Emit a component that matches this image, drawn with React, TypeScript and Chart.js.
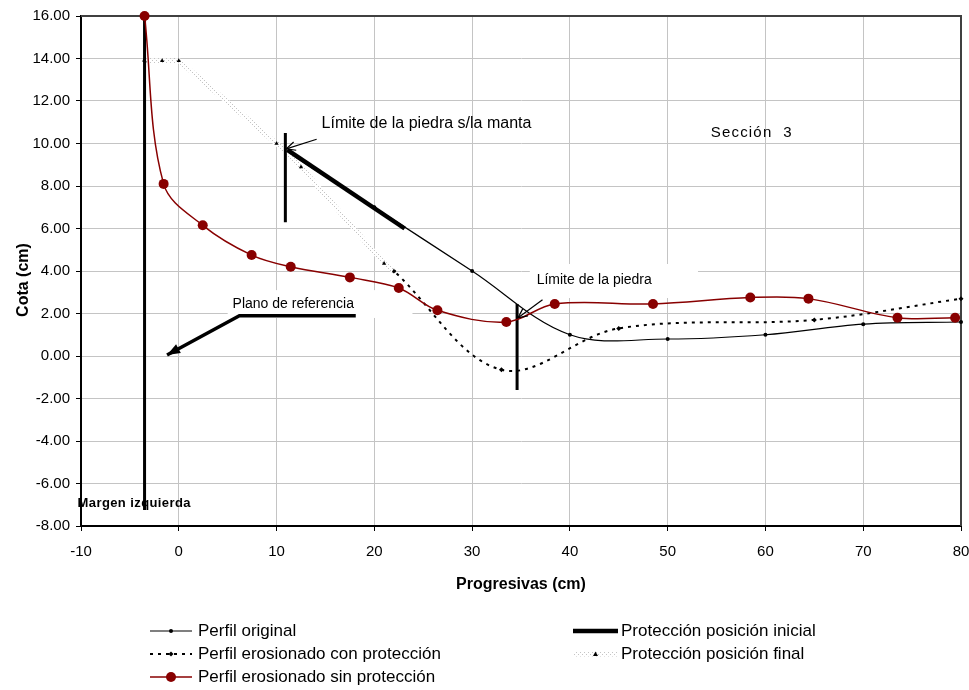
import React, { useEffect, useRef } from 'react';
import { Chart, registerables } from 'chart.js';

Chart.register(...registerables);

const FONT = "'Liberation Sans Narrow', 'Arial Narrow', 'Liberation Sans', Arial, sans-serif";
const RED = '#880000';

// ---- Data (x = progresiva cm, y = cota cm) ----
const origX = [-3.5, -1.7, 0, 10, 20, 30, 40, 50, 60, 70, 80];
const origY = [13.9, 13.9, 13.9, 10, 7, 4, 1.0, 0.8, 1.0, 1.5, 1.6];

const conProtX = [21, 22, 33, 45, 65, 80];
const conProtY = [4.35, 4.0, -0.65, 1.3, 1.7, 2.7];

const sinProtX = [-3.5, -1.55, 2.45, 7.45, 11.45, 17.5, 22.5, 26.45, 33.5, 38.45, 48.5, 58.45, 64.4, 73.5, 79.4];
const sinProtY = [16.0, 8.1, 6.15, 4.75, 4.2, 3.7, 3.2, 2.15, 1.6, 2.45, 2.45, 2.75, 2.7, 1.8, 1.8];

const protIniX = [11.1, 23.1];
const protIniY = [9.7, 6.0];

const protFinX = [-3.5, -1.7, 0, 10, 12.5, 21, 22];
const protFinY = [13.9, 13.9, 13.9, 10, 8.9, 4.35, 4.0];

// annotation marks
const margenX = [-3.5, -3.5];
const margenY = [16, -7.25];
const mantaBarX = [10.9, 10.9];
const mantaBarY = [10.5, 6.3];
const piedraBarX = [34.6, 34.6];
const piedraBarY = [2.45, -1.6];
const planoX = [18.1, 6.2, -1.2];
const planoY = [1.9, 1.9, 0.05];
const mantaArrowX = [14.1, 11.0];
const mantaArrowY = [10.2, 9.75];
const piedraArrowX = [37.2, 34.7];
const piedraArrowY = [2.65, 1.8];

// text labels (anchored in data coordinates)
const labelTexts = ['Límite de la piedra s/la manta', 'Sección  3', 'Límite de la piedra', 'Plano de referencia', 'Margen izquierda'];
const labelX = [14.6, 54.4, 36.6, 5.5, -10.35];
const labelY = [10.96, 10.5, 3.58, 2.45, -6.92];

// white label boxes hiding grid lines
const boxX0 = [35.9, 5.0];
const boxX1 = [53.1, 23.9];
const boxY0 = [4.33, 3.1];
const boxY1 = [2.73, 1.79];

const xTickMin = -10;
const xTickMax = 80;
const yTickMin = -8;
const yTickMax = 16;

const pts = (xs: number[], ys: number[]) => xs.map((x, i) => ({ x, y: ys[i] }));

export default function App() {
  const ref = useRef<HTMLCanvasElement>(null);

  useEffect(() => {
    const canvas = ref.current!;
    const ctx = canvas.getContext('2d')!;

    const pc = document.createElement('canvas');
    pc.width = 4;
    pc.height = 4;
    const pctx = pc.getContext('2d')!;
    pctx.fillStyle = '#ffffff';
    pctx.fillRect(0, 0, 4, 4);
    pctx.fillStyle = '#c4c4c4';
    pctx.fillRect(0, 0, 1, 1);
    pctx.fillRect(2, 2, 1, 1);
    const pattern = ctx.createPattern(pc, 'repeat')!;

    const annot = (data: any, width: number) => ({
      label: '',
      data,
      borderColor: '#000',
      backgroundColor: '#000',
      borderWidth: width,
      pointRadius: 0,
      tension: 0,
      order: 2,
      clip: false as any,
    });

    const legendDefs = [
      { ds: 'orig', text: 'Perfil original', col: 0, row: 0 },
      { ds: 'con', text: 'Perfil erosionado con protección', col: 0, row: 1 },
      { ds: 'sin', text: 'Perfil erosionado sin protección', col: 0, row: 2 },
      { ds: 'ini', text: 'Protección posición inicial', col: 1, row: 0 },
      { ds: 'fin', text: 'Protección posición final', col: 1, row: 1 },
    ];

    const drawMarker = (c: CanvasRenderingContext2D, style: string, x: number, y: number, r: number, color: string) => {
      c.save();
      c.fillStyle = color;
      c.beginPath();
      if (style === 'circle') {
        c.arc(x, y, r, 0, Math.PI * 2);
      } else if (style === 'triangle') {
        c.moveTo(x, y - r);
        c.lineTo(x + r, y + r * 0.8);
        c.lineTo(x - r, y + r * 0.8);
        c.closePath();
      } else if (style === 'rectRot') {
        c.moveTo(x, y - r);
        c.lineTo(x + r, y);
        c.lineTo(x, y + r);
        c.lineTo(x - r, y);
        c.closePath();
      }
      c.fill();
      c.restore();
    };

    const labelFont = [
      { size: 16, bold: false, spacing: 0 },
      { size: 15, bold: false, spacing: 1.2 },
      { size: 14, bold: false, spacing: 0 },
      { size: 14, bold: false, spacing: 0 },
      { size: 13, bold: true, spacing: 0.4 },
    ];

    const customPlugin = {
      id: 'custom',
      beforeDatasetsDraw(chart: any) {
        const c = chart.ctx as CanvasRenderingContext2D;
        const xs = chart.scales.x;
        const ys = chart.scales.y;
        const a = chart.chartArea;
        c.save();
        c.fillStyle = '#fff';
        for (let i = 0; i < boxX0.length; i++) {
          const x0 = xs.getPixelForValue(boxX0[i]);
          const x1 = xs.getPixelForValue(boxX1[i]);
          const y0 = ys.getPixelForValue(boxY0[i]);
          const y1 = ys.getPixelForValue(boxY1[i]);
          c.fillRect(x0, y0, x1 - x0, y1 - y0);
        }
        // plot frame top/right
        c.strokeStyle = '#404040';
        c.lineWidth = 2;
        c.beginPath();
        c.moveTo(a.left, a.top);
        c.lineTo(a.right, a.top);
        c.lineTo(a.right, a.bottom);
        c.stroke();
        c.restore();
      },
      afterDatasetsDraw(chart: any) {
        const c = chart.ctx as CanvasRenderingContext2D;
        const xs = chart.scales.x;
        const ys = chart.scales.y;
        const px = (v: number) => xs.getPixelForValue(v);
        const py = (v: number) => ys.getPixelForValue(v);
        c.save();
        // filled arrow head (plano de referencia)
        {
          const n = planoX.length;
          const tx = px(planoX[n - 1]);
          const ty = py(planoY[n - 1]);
          const fx = px(planoX[n - 2]);
          const fy = py(planoY[n - 2]);
          const ang = Math.atan2(ty - fy, tx - fx);
          const L = 13;
          const W = 5;
          c.fillStyle = '#000';
          c.beginPath();
          c.moveTo(tx, ty);
          c.lineTo(tx - L * Math.cos(ang) + W * Math.sin(ang), ty - L * Math.sin(ang) - W * Math.cos(ang));
          c.lineTo(tx - L * Math.cos(ang) - W * Math.sin(ang), ty - L * Math.sin(ang) + W * Math.cos(ang));
          c.closePath();
          c.fill();
        }
        // open arrow heads
        const openHead = (ax: number[], ay: number[]) => {
          const tx = px(ax[1]);
          const ty = py(ay[1]);
          const fx = px(ax[0]);
          const fy = py(ay[0]);
          const ang = Math.atan2(ty - fy, tx - fx);
          const L = 10;
          const sp = 0.45;
          c.strokeStyle = '#000';
          c.lineWidth = 1.2;
          c.beginPath();
          c.moveTo(tx - L * Math.cos(ang - sp), ty - L * Math.sin(ang - sp));
          c.lineTo(tx, ty);
          c.lineTo(tx - L * Math.cos(ang + sp), ty - L * Math.sin(ang + sp));
          c.stroke();
        };
        openHead(mantaArrowX, mantaArrowY);
        openHead(piedraArrowX, piedraArrowY);

        // text labels
        c.fillStyle = '#000';
        c.textBaseline = 'middle';
        c.textAlign = 'left';
        for (let i = 0; i < labelTexts.length; i++) {
          const f = labelFont[i];
          c.font = `${f.bold ? 'bold ' : ''}${f.size}px ${FONT}`;
          (c as any).letterSpacing = `${f.spacing}px`;
          c.fillText(labelTexts[i], px(labelX[i]), py(labelY[i]));
        }
        (c as any).letterSpacing = '0px';
        c.restore();
      },
      afterDraw(chart: any) {
        const c = chart.ctx as CanvasRenderingContext2D;
        const a = chart.chartArea;
        // y axis title
        c.save();
        c.translate(24, (a.top + a.bottom) / 2 + 9);
        c.rotate(-Math.PI / 2);
        c.font = `bold 16px ${FONT}`;
        c.fillStyle = '#000';
        c.textAlign = 'center';
        c.textBaseline = 'middle';
        c.fillText('Cota (cm)', 0, 0);
        c.restore();

        const colX = [150, 573];
        const colW = [42, 45];
        const textX = [198, 621];
        const rowY = [631, 654, 677];
        c.save();
        c.font = `17px ${FONT}`;
        c.textBaseline = 'middle';
        c.textAlign = 'left';
        for (const item of legendDefs) {
          const ds = chart.data.datasets.find((d: any) => d.key === item.ds);
          const x0 = colX[item.col];
          const x1 = x0 + colW[item.col];
          const y = rowY[item.row];
          c.save();
          c.strokeStyle = ds.borderColor;
          c.lineWidth = ds.borderWidth;
          c.setLineDash(ds.borderDash || []);
          c.beginPath();
          c.moveTo(x0, y);
          c.lineTo(x1, y);
          c.stroke();
          c.restore();
          if (ds.pointRadius > 0) {
            drawMarker(c, ds.pointStyle || 'circle', (x0 + x1) / 2, y, ds.pointRadius, ds.pointBackgroundColor || ds.backgroundColor);
          }
          c.fillStyle = '#000';
          c.fillText(item.text, textX[item.col], y);
        }
        c.restore();
      },
    };

    const chart = new Chart(ctx, {
      type: 'line',
      data: {
        datasets: [
          {
            key: 'sin',
            label: 'Perfil erosionado sin protección',
            data: pts(sinProtX, sinProtY),
            borderColor: RED,
            backgroundColor: RED,
            pointBackgroundColor: RED,
            borderWidth: 1.5,
            pointRadius: 5,
            pointBorderWidth: 0,
            pointStyle: 'circle',
            tension: 0.35,
            order: 0,
            clip: false as any,
          } as any,
          {
            key: 'ini',
            label: 'Protección posición inicial',
            data: pts(protIniX, protIniY),
            borderColor: '#000',
            backgroundColor: '#000',
            borderWidth: 4.5,
            pointRadius: 0,
            tension: 0,
            order: 1,
          } as any,
          annot(pts(margenX, margenY), 3),
          annot(pts(mantaBarX, mantaBarY), 3),
          annot(pts(piedraBarX, piedraBarY), 3),
          annot(pts(planoX, planoY), 3.5),
          annot(pts(mantaArrowX, mantaArrowY), 1.2),
          annot(pts(piedraArrowX, piedraArrowY), 1.2),
          {
            key: 'fin',
            label: 'Protección posición final',
            data: pts(protFinX, protFinY),
            borderColor: pattern,
            backgroundColor: '#000',
            pointBackgroundColor: '#000',
            borderWidth: 5,
            pointStyle: 'triangle',
            pointRadius: 2.5,
            pointBorderWidth: 0,
            tension: 0,
            order: 3,
          } as any,
          {
            key: 'con',
            label: 'Perfil erosionado con protección',
            data: pts(conProtX, conProtY),
            borderColor: '#000',
            backgroundColor: '#000',
            pointBackgroundColor: '#000',
            borderWidth: 2,
            borderDash: [3, 5],
            pointStyle: 'rectRot',
            pointRadius: 2.5,
            pointBorderWidth: 0,
            tension: 0.35,
            order: 4,
            clip: false as any,
          } as any,
          {
            key: 'orig',
            label: 'Perfil original',
            data: pts(origX, origY),
            borderColor: '#000',
            backgroundColor: '#000',
            pointBackgroundColor: '#000',
            borderWidth: 1.2,
            pointStyle: 'circle',
            pointRadius: 2,
            pointBorderWidth: 0,
            tension: 0.35,
            order: 5,
            clip: false as any,
          } as any,
        ],
      },
      options: {
        responsive: false,
        animation: false,
        events: [],
        layout: { padding: { left: 0, top: 16, right: 8, bottom: 96 } },
        plugins: {
          legend: { display: false },
          tooltip: { enabled: false },
        },
        scales: {
          x: {
            type: 'linear',
            min: xTickMin,
            max: xTickMax,
            ticks: {
              stepSize: 10,
              color: '#000',
              font: { family: FONT, size: 15 },
              padding: 12,
              maxRotation: 0,
            },
            grid: { color: '#c4c4c4', lineWidth: 1, tickColor: '#000', tickLength: 5 },
            border: { color: '#000', width: 2 },
            title: {
              display: true,
              text: 'Progresivas (cm)',
              color: '#000',
              font: { family: FONT, size: 16, weight: 'bold' },
              padding: { top: 0, bottom: 0 },
            },
            afterFit: (s: any) => {
              s.height = 68;
              s.paddingLeft = 0;
              s.paddingRight = 0;
            },
          },
          y: {
            type: 'linear',
            min: yTickMin,
            max: yTickMax,
            ticks: {
              stepSize: 2,
              color: '#000',
              font: { family: FONT, size: 15 },
              padding: 6,
              callback: (v: any) => Number(v).toFixed(2),
            },
            grid: { color: '#c4c4c4', lineWidth: 1, tickColor: '#000', tickLength: 5 },
            border: { color: '#000', width: 2 },
            afterFit: (s: any) => {
              s.width = 81;
              s.paddingTop = 0;
              s.paddingBottom = 0;
            },
          },
        },
      } as any,
      plugins: [customPlugin],
    });

    return () => chart.destroy();
  }, []);

  return (
    <div style={{ position: 'fixed', left: 0, top: 0, width: 969, height: 690, background: '#fff' }}>
      <canvas ref={ref} width={969} height={690} style={{ width: 969, height: 690, display: 'block' }} />
    </div>
  );
}
